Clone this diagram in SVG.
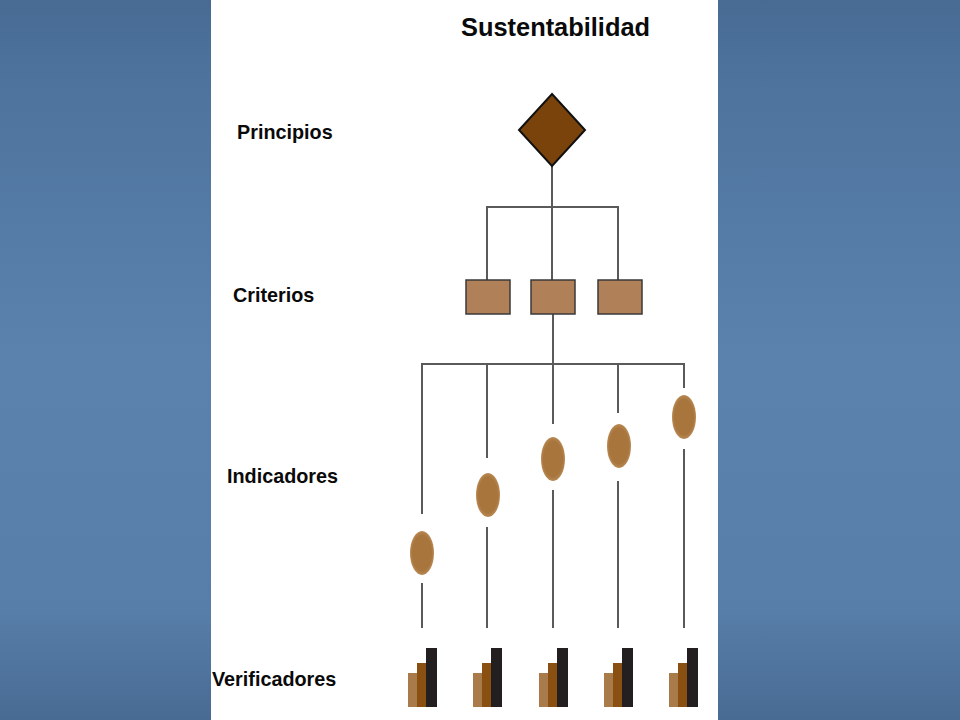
<svg xmlns="http://www.w3.org/2000/svg" width="960" height="720" viewBox="0 0 960 720">
  <defs>
    <linearGradient id="bg" x1="0" y1="0" x2="0" y2="1">
      <stop offset="0" stop-color="#476b93"/>
      <stop offset="0.12" stop-color="#4e749d"/>
      <stop offset="0.5" stop-color="#5a82ad"/>
      <stop offset="0.85" stop-color="#577ea8"/>
      <stop offset="1" stop-color="#486b93"/>
    </linearGradient>
    <radialGradient id="oval" cx="0.5" cy="0.5" r="0.5">
      <stop offset="0.8" stop-color="#a8753d"/>
      <stop offset="1" stop-color="#b98a55"/>
    </radialGradient>
    <g id="bars">
      <rect x="0" y="25" width="9" height="34" fill="#a97a4a"/>
      <rect x="9" y="15" width="9" height="44" fill="#8a5012"/>
      <rect x="18" y="0" width="11" height="59" fill="#231f20"/>
    </g>
  </defs>
  <style>
    .lbl { font-family: "Liberation Sans", Arial, sans-serif; font-weight: bold; font-size: 19.8px; fill: #0a0a0a; }
    .title { font-family: "Liberation Sans", Arial, sans-serif; font-weight: bold; font-size: 25.4px; fill: #0a0a0a; }
    .ln { stroke: #5a5a5a; stroke-width: 2; fill: none; }
    .crit { fill: #b08158; stroke: #3a3a3a; stroke-width: 1.5; }
    .ind { fill: url(#oval); }
  </style>

  <rect x="0" y="0" width="960" height="720" fill="url(#bg)"/>
  <rect x="211" y="0" width="507" height="720" fill="#ffffff"/>

  <text class="title" x="461" y="36">Sustentabilidad</text>
  <text class="lbl" x="237" y="139">Principios</text>
  <text class="lbl" x="233" y="302">Criterios</text>
  <text class="lbl" x="227" y="483">Indicadores</text>
  <text class="lbl" x="212" y="686">Verificadores</text>

  <g id="connectors">
    <path class="ln" d="M552,166 V280 M487,280 V207 H618 V280"/>
    <path class="ln" d="M553,314 V364 M422,514 V364 H684 V388 M487,364 V458 M553,364 V424 M618,364 V413"/>
    <path class="ln" d="M422,583 V628 M487,527 V628 M553,490 V628 M618,481 V628 M684,449 V628"/>
  </g>

  <g id="principio">
    <polygon points="552,94 585,130 552,166 519,130" fill="#7a430c" stroke="#111" stroke-width="2"/>
  </g>

  <g id="criterio-1"><rect class="crit" x="466" y="280" width="44" height="34"/></g>
  <g id="criterio-2"><rect class="crit" x="531" y="280" width="44" height="34"/></g>
  <g id="criterio-3"><rect class="crit" x="598" y="280" width="44" height="34"/></g>

  <g id="indicador-1"><ellipse class="ind" cx="422" cy="553" rx="12" ry="22"/></g>
  <g id="indicador-2"><ellipse class="ind" cx="488" cy="495" rx="12" ry="22"/></g>
  <g id="indicador-3"><ellipse class="ind" cx="553" cy="459" rx="12" ry="22"/></g>
  <g id="indicador-4"><ellipse class="ind" cx="619" cy="446" rx="12" ry="22"/></g>
  <g id="indicador-5"><ellipse class="ind" cx="684" cy="417" rx="12" ry="22"/></g>

  <g id="verificador-1"><use href="#bars" x="408" y="648"/></g>
  <g id="verificador-2"><use href="#bars" x="473" y="648"/></g>
  <g id="verificador-3"><use href="#bars" x="539" y="648"/></g>
  <g id="verificador-4"><use href="#bars" x="604" y="648"/></g>
  <g id="verificador-5"><use href="#bars" x="669" y="648"/></g>
</svg>
